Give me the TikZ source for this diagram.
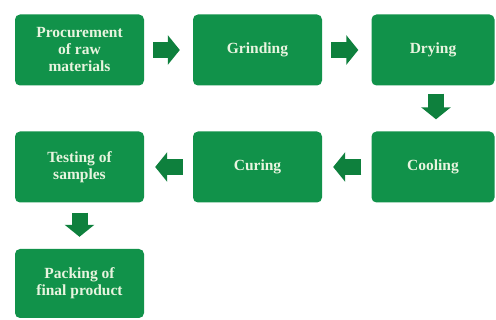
\documentclass[tikz,border=0pt]{standalone}
\usepackage{fontspec}
\setmainfont{Liberation Serif}
\usetikzlibrary{arrows.meta}
\definecolor{boxgreen}{HTML}{11924A}
\definecolor{arrgreen}{HTML}{0E803D}
\definecolor{txtcol}{HTML}{E8F4DF}
\tikzset{
  stepbox/.style={fill=boxgreen, rounded corners=5pt, minimum width=129pt, minimum height=71pt,
    inner sep=2pt, align=center, text=txtcol, font=\fontsize{15.5}{17}\selectfont\bfseries},
  blockarrow/.style={draw=arrgreen, line width=16pt, -{Triangle[width=29pt,length=12pt]}}
}
\begin{document}
\begin{tikzpicture}[x=1pt,y=-1pt]
\useasboundingbox[fill=white] (0,0) rectangle (496,320);
\node[stepbox] (a) at (79.5,50) {Procurement\\of raw\\materials};
\node[stepbox] (b) at (257.5,50) {Grinding};
\node[stepbox, minimum width=123pt] (c) at (433,50) {Drying};
\node[stepbox, minimum width=123pt] (d) at (433,167) {Cooling};
\node[stepbox] (e) at (257.5,167) {Curing};
\node[stepbox] (f) at (79.5,167) {Testing of\\samples};
\node[stepbox, minimum height=69pt] (g) at (79.5,283.5) {Packing of\\final product};
\draw[blockarrow, shorten <=9pt, shorten >=13pt] (a.east) -- (b.west);
\draw[blockarrow, shorten <=9pt, shorten >=13pt] (b.east) -- (c.west);
\draw[blockarrow, shorten <=8pt, shorten >=12pt] ([xshift=3pt]c.south) -- ([xshift=3pt]d.north);
\draw[blockarrow, shorten <=10pt, shorten >=11pt] (d.west) -- (e.east);
\draw[blockarrow, shorten <=10pt, shorten >=11pt] (e.west) -- (f.east);
\draw[blockarrow, shorten <=10pt, shorten >=12pt] (f.south) -- (g.north);
\end{tikzpicture}
\end{document}
